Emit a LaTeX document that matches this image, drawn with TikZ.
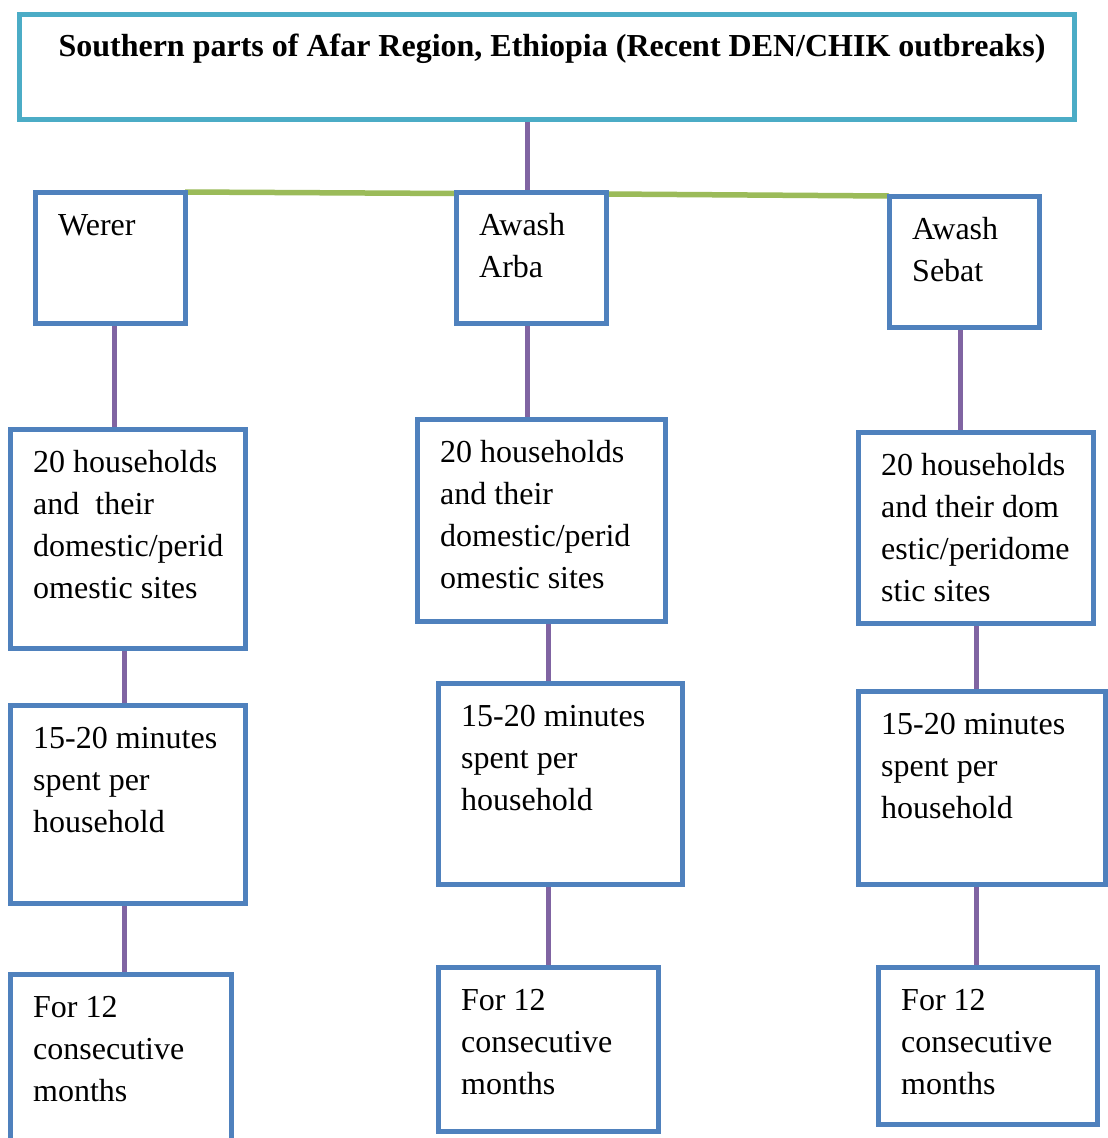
\documentclass[tikz,border=0pt]{standalone}
\usepackage{fontspec}
\setmainfont{Liberation Serif}
\usetikzlibrary{calc}
\definecolor{bblue}{HTML}{4F81BD}
\definecolor{bcyan}{HTML}{4BACC6}
\definecolor{bpurple}{HTML}{8064A2}
\definecolor{bgreen}{HTML}{9BBB59}
\tikzset{
  boxst/.style={draw=bblue, fill=white, line width=5pt, inner sep=0pt, outer sep=0pt, rectangle},
  txt/.style={inner sep=0pt},
  purp/.style={draw=bpurple, line width=5pt, shorten <=2.5pt, shorten >=2.5pt},
  grn/.style={draw=bgreen, line width=5.5pt},
}
\newcommand\bx[6]{%
  \pgfmathsetmacro\bxw{#4-#2-5}\pgfmathsetmacro\bxh{#5-#3-5}%
  \node[boxst, minimum width=\bxw pt, minimum height=\bxh pt, anchor=north west] (#1) at (#2+2.5,#3+2.5) {};
  \node[txt, anchor=base west] (#1t) at (#2+25,#3+45) {\parbox[t]{300pt}{\fontsize{32}{42}\selectfont\raggedright #6}};
}
\begin{document}
\begin{tikzpicture}[x=1pt,y=-1pt]
\useasboundingbox (0,0) rectangle (1108,1138);
\fill[white] (0,0) rectangle (1108,1138);
% title
\node[boxst, draw=bcyan, minimum width=1055pt, minimum height=105pt, anchor=north west] (title) at (19.5,14.5) {};
\node[inner sep=0pt, anchor=base, font=\fontsize{32}{38}\selectfont\bfseries] (titlet) at (552,56) {Southern parts of Afar Region, Ethiopia (Recent DEN/CHIK outbreaks)};
% green line
\coordinate (gA) at (185,192);
\coordinate (gB) at (456,193.5);
\coordinate (gC) at (607,194);
\coordinate (gD) at (889,196);
\draw[grn] (gA) -- (gB);
\draw[grn] (gC) -- (gD);
\bx{werer}{33}{190}{188}{326}{Werer}
\bx{arba}{454}{190}{609}{326}{Awash\\Arba}
\bx{sebat}{887}{194}{1042}{330}{Awash\\Sebat}
\bx{hhL}{8}{427}{248}{651}{20 households\\and\ \ their\\domestic/perid\\omestic sites}
\bx{hhM}{415}{417}{668}{624}{20 households\\and their\\domestic/perid\\omestic sites}
\bx{hhR}{856}{430}{1096}{626}{20 households\\and their dom\\estic/peridome\\stic sites}
\bx{mnL}{8}{703}{248}{906}{15-20 minutes\\spent per\\household}
\bx{mnM}{436}{681}{685}{887}{15-20 minutes\\spent per\\household}
\bx{mnR}{856}{689}{1108}{887}{15-20 minutes\\spent per\\household}
\bx{moL}{8}{972}{234}{1150}{For 12\\consecutive\\months}
\bx{moM}{436}{965}{661}{1134}{For 12\\consecutive\\months}
\bx{moR}{876}{965}{1100}{1127}{For 12\\consecutive\\months}
% connectors
\draw[purp] (title.south -| 527,0) -- (arba.north -| 527,0);
\draw[purp] (werer.south -| 114,0) -- (hhL.north -| 114,0);
\draw[purp] (arba.south -| 527,0) -- (hhM.north -| 527,0);
\draw[purp] (sebat.south -| 960,0) -- (hhR.north -| 960,0);
\draw[purp] (hhL.south -| 124,0) -- (mnL.north -| 124,0);
\draw[purp] (hhM.south -| 548,0) -- (mnM.north -| 548,0);
\draw[purp] (hhR.south -| 976,0) -- (mnR.north -| 976,0);
\draw[purp] (mnL.south -| 124,0) -- (moL.north -| 124,0);
\draw[purp] (mnM.south -| 548,0) -- (moM.north -| 548,0);
\draw[purp] (mnR.south -| 976,0) -- (moR.north -| 976,0);
\end{tikzpicture}
\end{document}
